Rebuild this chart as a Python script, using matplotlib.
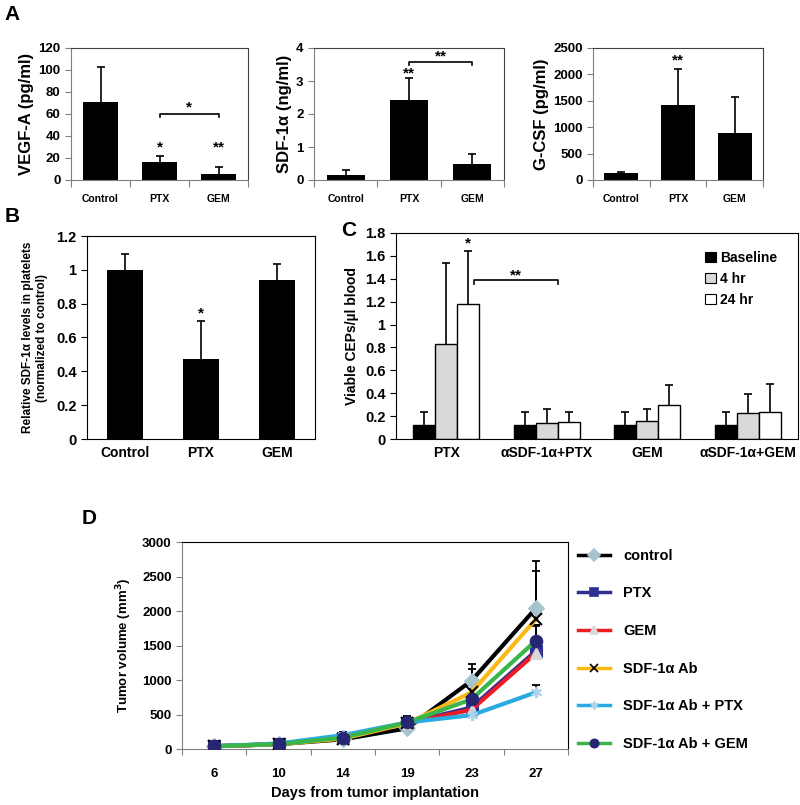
import numpy as np
import matplotlib
matplotlib.use('Agg')
import matplotlib.pyplot as plt
from matplotlib.patches import Patch
from matplotlib.lines import Line2D

plt.rcParams['font.family'] = ['Liberation Sans', 'DejaVu Sans']
plt.rcParams['font.weight'] = 'bold'
plt.rcParams['axes.labelweight'] = 'bold'
plt.rcParams['mathtext.default'] = 'bf'

# ---- data ----
groups_a = ['Control', 'PTX', 'GEM']
vegf = [71, 16.5, 5]
vegf_err = [32, 5, 7]
sdf = [0.15, 2.42, 0.48]
sdf_err = [0.15, 0.68, 0.32]
gcsf = [130, 1420, 890]
gcsf_err = [20, 680, 680]

groups_b = ['Control', 'PTX', 'GEM']
platelet_sdf = [1.0, 0.47, 0.94]
platelet_err = [0.095, 0.23, 0.095]

groups_c = ['PTX', 'αSDF-1α+PTX', 'GEM', 'αSDF-1α+GEM']
series_c = ['Baseline', '4 hr', '24 hr']
ceps = [[0.12, 0.12, 0.12, 0.12],
        [0.83, 0.14, 0.16, 0.23],
        [1.18, 0.15, 0.30, 0.24]]
ceps_err = [[0.12, 0.12, 0.12, 0.12],
            [0.71, 0.12, 0.10, 0.16],
            [0.46, 0.09, 0.17, 0.24]]
colors_c = ['black', '#d9d9d9', 'white']

days = ['6', '10', '14', '19', '23', '27']
tumor_names = ['control', 'PTX', 'GEM', 'SDF-1α Ab', 'SDF-1α Ab + PTX', 'SDF-1α Ab + GEM']
tumor = [[40, 70, 140, 300, 990, 2040],
         [40, 70, 165, 380, 600, 1420],
         [40, 70, 165, 375, 570, 1390],
         [40, 70, 150, 370, 820, 1880],
         [40, 80, 200, 385, 490, 820],
         [40, 70, 165, 385, 720, 1570]]
tumor_err = [[10, 15, 40, 80, 240, 680],
             [10, 15, 50, 90, 150, 360],
             [10, 15, 50, 90, 150, 400],
             [10, 15, 40, 90, 340, 700],
             [10, 15, 50, 80, 100, 110],
             [10, 15, 50, 90, 150, 225]]
line_colors = ['black', '#2e3192', '#ed1c24', '#fbb917', '#29abe2', '#39b54a']
mk = ['D', 's', '^', 'x', (6, 2, 0), 'o']
mk_face = ['#a7c4cc', '#2e3192', '#d9d9d9', 'black', '#a9d4ec', '#262673']

W, H = 800, 805
fig = plt.figure(figsize=(W / 100, H / 100), dpi=100)


def px_axes(x0, x1, y0, y1):
    return fig.add_axes([x0 / W, 1 - y1 / H, (x1 - x0) / W, (y1 - y0) / H])


def up_err(ax, x, v, e, lw=1.2, cap=6):
    x = np.asarray(x, dtype=float)
    top = np.asarray(v) + np.asarray(e)
    ax.vlines(x, v, top, color='black', lw=lw, zorder=3)
    ax.plot(x, top, ls='none', marker='_', ms=cap, mew=lw, color='black', zorder=3)


def bracket(ax, x0, x1, y, drop, label, ty):
    ax.plot([x0, x0, x1, x1], [y - drop, y, y, y - drop], color='black', lw=1.2,
            clip_on=False)
    ax.text((x0 + x1) / 2, ty, label, ha='center', va='center', fontsize=11)


def panel_a(ax, vals, errs, ylim, step, ylabel):
    x = np.arange(len(groups_a))
    ax.bar(x, vals, width=0.6, color='black', zorder=2)
    up_err(ax, x, vals, errs)
    ax.set_xlim(-0.5, 2.5)
    ax.set_ylim(0, ylim)
    ax.set_yticks(np.arange(0, ylim + step / 2, step))
    ax.set_xticks([-0.5, 0.5, 1.5, 2.5])
    ax.set_xticklabels([])
    ax.set_xticks(x, minor=True)
    ax.set_xticklabels(groups_a, minor=True, fontsize=7.5)
    ax.tick_params(axis='x', which='minor', length=0, pad=10)
    ax.tick_params(axis='x', which='major', length=5, color='#808080')
    ax.tick_params(axis='y', length=4, color='#808080', labelsize=9.5)
    for s in ['left', 'bottom']:
        ax.spines[s].set_color('#808080')
    for s in ['top', 'right']:
        ax.spines[s].set_color('#404040')
    ax.set_ylabel(ylabel, fontsize=12, labelpad=3)
    return x


# ---- A ----
ax1 = px_axes(71, 248, 48, 180)
panel_a(ax1, vegf, vegf_err, 120, 20, 'VEGF-A (pg/ml)')
ax1.text(1, 30, '*', ha='center', va='center', fontsize=11)
ax1.text(2, 30, '**', ha='center', va='center', fontsize=11)
bracket(ax1, 1, 2, 60, 3, '*', 66)

ax2 = px_axes(314, 504, 48, 180)
panel_a(ax2, sdf, sdf_err, 4, 1, 'SDF-1α (ng/ml)')
ax2.text(1, 3.22, '**', ha='center', va='center', fontsize=11)
bracket(ax2, 1, 2, 3.58, 0.1, '**', 3.74)

ax3 = px_axes(593, 763, 48, 180)
panel_a(ax3, gcsf, gcsf_err, 2500, 500, 'G-CSF (pg/ml)')
ax3.text(1, 2270, '**', ha='center', va='center', fontsize=11)

fig.text(12 / W, 1 - 15 / H, 'A', fontsize=15, ha='center', va='center')

# ---- B ----
axb = px_axes(87, 315, 236, 439)
xb = np.arange(len(groups_b))
axb.bar(xb, platelet_sdf, width=0.48, color='black', zorder=2)
up_err(axb, xb, platelet_sdf, platelet_err)
axb.set_xlim(-0.5, 2.5)
axb.set_ylim(0, 1.2)
axb.set_yticks([0, 0.2, 0.4, 0.6, 0.8, 1, 1.2])
axb.set_yticklabels(['0', '0.2', '0.4', '0.6', '0.8', '1', '1.2'])
axb.set_xticks(xb)
axb.set_xticklabels(groups_b)
axb.tick_params(axis='x', length=0, labelsize=10, pad=5)
axb.tick_params(axis='y', length=4, labelsize=10.5)
axb.set_ylabel('Relative SDF-1α levels in platelets\n(normalized to control)',
               fontsize=8.5, labelpad=6, linespacing=1.2)
axb.text(1, 0.74, '*', ha='center', va='center', fontsize=11)
fig.text(12 / W, 1 - 216 / H, 'B', fontsize=15, ha='center', va='center')

# ---- C ----
axc = px_axes(396, 798, 233, 439)
xc = np.arange(len(groups_c))
bw = 0.22
for i in range(3):
    pos = xc + (i - 1) * bw
    axc.bar(pos, ceps[i], width=bw, color=colors_c[i], edgecolor='black',
            linewidth=1, zorder=2, label=series_c[i])
    up_err(axc, pos, ceps[i], ceps_err[i])
axc.set_xlim(-0.5, 3.5)
axc.set_ylim(0, 1.8)
axc.set_yticks(np.arange(0, 1.81, 0.2))
axc.set_yticklabels(['0', '0.2', '0.4', '0.6', '0.8', '1', '1.2', '1.4', '1.6', '1.8'])
axc.set_xticks(xc)
axc.set_xticklabels(groups_c)
axc.tick_params(axis='x', length=0, labelsize=10, pad=5)
axc.tick_params(axis='y', length=4, labelsize=10.5)
axc.set_ylabel('Viable CEPs/µl blood', fontsize=10, labelpad=4)
axc.text(bw, 1.71, '*', ha='center', va='center', fontsize=11)
bracket(axc, 0.28, 1.11, 1.39, 0.04, '**', 1.43)
handles = [Patch(facecolor=c, edgecolor='black', linewidth=0.8) for c in colors_c]
axc.legend(handles, series_c, loc='upper left', bbox_to_anchor=(0.755, 0.94),
           frameon=False, fontsize=10, handlelength=0.8, handleheight=0.8,
           handletextpad=0.3, labelspacing=0.5, borderaxespad=0)
fig.text(349 / W, 1 - 231 / H, 'C', fontsize=15, ha='center', va='center')

# ---- D ----
axd = px_axes(182, 568, 542, 749)
xd = np.arange(len(days))
for i in range(len(tumor)):
    up_err(axd, xd, tumor[i], tumor_err[i], lw=1.3, cap=6)
for i in range(len(tumor)):
    mec = 'black' if mk[i] == 'x' else mk_face[i]
    axd.plot(xd, tumor[i], color=line_colors[i], lw=3, marker=mk[i],
             markersize=8 if mk[i] != 'o' else 9, markerfacecolor=mk_face[i],
             markeredgecolor=mec, markeredgewidth=1.5 if mk[i] in ('x', (6, 2, 0)) else 0.8,
             zorder=4 + i, label=tumor_names[i])
axd.set_xlim(-0.5, 5.5)
axd.set_ylim(0, 3000)
axd.set_yticks(np.arange(0, 3001, 500))
axd.set_xticks(np.arange(-0.5, 5.6, 1))
axd.set_xticklabels([])
axd.set_xticks(xd, minor=True)
axd.set_xticklabels(days, minor=True)
axd.tick_params(axis='x', which='minor', length=0, pad=14, labelsize=9.5)
axd.tick_params(axis='x', which='major', length=4, color='#808080')
axd.tick_params(axis='y', length=4, color='#808080', labelsize=9.5)
for s in ['left', 'bottom']:
    axd.spines[s].set_color('#808080')
axd.set_ylabel('Tumor volume (mm$^3$)', fontsize=9.5, labelpad=6)
axd.set_xlabel('Days from tumor implantation', fontsize=10.5, labelpad=4)

leg_handles = []
for i in range(len(tumor)):
    mec = 'black' if mk[i] == 'x' else mk_face[i]
    leg_handles.append(Line2D([], [], color=line_colors[i], lw=2.5, marker=mk[i],
                              markersize=6, markerfacecolor=mk_face[i],
                              markeredgecolor=mec, markeredgewidth=1.2))
fig.legend(leg_handles, tumor_names, loc='upper left',
           bbox_to_anchor=(572 / W, 1 - 543 / H), frameon=False, fontsize=10.5,
           handlelength=2.2, handletextpad=0.9, labelspacing=1.62, borderaxespad=0)
fig.text(89 / W, 1 - 519 / H, 'D', fontsize=15, ha='center', va='center')

fig.savefig('out.png', dpi=100)
